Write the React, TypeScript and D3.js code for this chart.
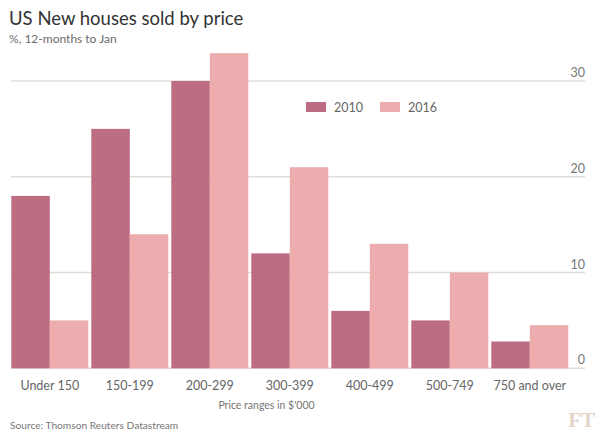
import React from "react";
import * as d3 from "d3";

const categories = ["Under 150", "150-199", "200-299", "300-399", "400-499", "500-749", "750 and over"];
const seriesNames = ["2010", "2016"];
const values2010 = [18, 25, 30, 12, 6, 5, 2.8];
const values2016 = [5, 14, 32.9, 21, 13, 10, 4.5];
const yTicks = [0, 10, 20, 30];

const W = 600;
const H = 437;
const colors: Record<string, string> = { "2010": "#bc6d81", "2016": "#edadae" };
const FONT = "Lato, 'Noto Sans', sans-serif";

export default function App() {
  const x0 = d3.scaleBand<string>().domain(categories).range([11.3, 568.3]).paddingInner(0.0375).paddingOuter(0);
  const x1 = d3.scaleBand<string>().domain(seriesNames).range([0, x0.bandwidth()]).padding(0);
  const y = d3.scaleLinear().domain([0, 30]).range([368.3, 81]);
  const seriesVals: Record<string, number[]> = { "2010": values2010, "2016": values2016 };

  return (
    <svg width={W} height={H} style={{ display: "block", position: "absolute", left: 0, top: 0, background: "#fff" }}>
      <rect x={0} y={0} width={W} height={H} fill="#fff" />
      <text x={9} y={25} fontFamily={FONT} fontSize={18.5} fill="#333">US New houses sold by price</text>
      <text x={9} y={43} fontFamily={FONT} fontSize={12} fill="#6b6b6b">%, 12-months to Jan</text>

      {yTicks.map((t) => (
        <g key={t}>
          <line x1={11} x2={585} y1={y(t)} y2={y(t)} stroke="#e2dcd6" strokeWidth={1.5} />
          <text x={585} y={y(t) - 4} textAnchor="end" fontFamily={FONT} fontSize={12.5} fill="#777">{t}</text>
        </g>
      ))}

      {categories.map((c, i) => (
        <g key={c} transform={`translate(${x0(c)},0)`}>
          {seriesNames.map((s) => {
            const v = seriesVals[s][i];
            return (
              <rect key={s} x={x1(s)} y={y(v)} width={x1.bandwidth()} height={y(0) - y(v)} fill={colors[s]} />
            );
          })}
        </g>
      ))}

      {categories.map((c) => (
        <text key={c} x={(x0(c) as number) + x0.bandwidth() / 2} y={390} textAnchor="middle" fontFamily={FONT} fontSize={12.5} fill="#666">{c}</text>
      ))}
      <text x={266.5} y={409} textAnchor="middle" fontFamily={FONT} fontSize={10.5} fill="#777">Price ranges in $'000</text>

      {seriesNames.map((s, i) => (
        <g key={s} transform={`translate(${306 + i * 74},102)`}>
          <rect x={0} y={0} width={20} height={10} fill={colors[s]} />
          <text x={28} y={10} fontFamily={FONT} fontSize={12.5} fill="#666">{s}</text>
        </g>
      ))}

      <text x={10} y={429} fontFamily={FONT} fontSize={10.2} fill="#777">Source: Thomson Reuters Datastream</text>
      <text x={595} y={427} textAnchor="end" fontFamily="'Liberation Serif', 'DejaVu Serif', serif" fontWeight="bold" fontSize={21} fill="#e2d4cb">FT</text>
    </svg>
  );
}
